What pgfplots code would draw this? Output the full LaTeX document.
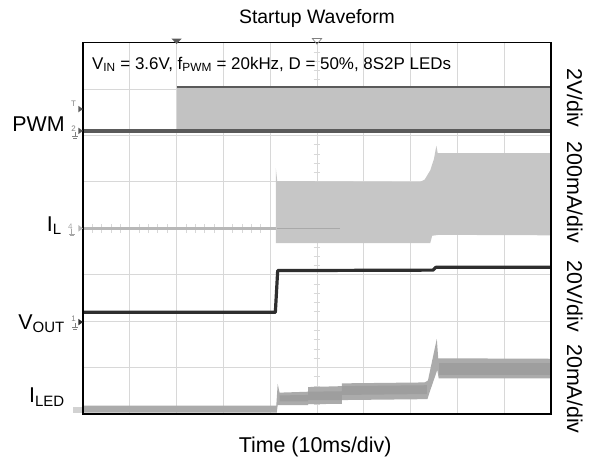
\documentclass[border=0pt]{standalone}
\usepackage{pgfplots}
\pgfplotsset{compat=1.18}
\usepackage{fontspec}
\setmainfont{Liberation Sans}
\definecolor{pwmband}{HTML}{C2C2C2}
\definecolor{pwmline}{HTML}{5A5A5A}
\definecolor{ilband}{HTML}{C6C6C6}
\definecolor{illine}{HTML}{B8B8B8}
\definecolor{voutline}{HTML}{2E2E2E}
\definecolor{iledband}{HTML}{ABABAB}
\definecolor{iledcore}{HTML}{9E9E9E}
\definecolor{gridc}{HTML}{D8D8D8}
\newcommand\lbl{\fontsize{21.5}{24}\selectfont}
\begin{document}
\begin{tikzpicture}
\begin{axis}[name=ax, width=468bp, height=371.3bp, scale only axis,
  xmin=0, xmax=10, ymin=0, ymax=8,
  xtick={1,2,3,4,5,6,7,8,9}, ytick={1,2,3,4,5,6,7},
  xticklabels={}, yticklabels={}, major tick length=0pt,
  grid=major, grid style={gridc, line width=1bp},
  axis line style={line width=1.3bp}, clip=false]
% centre graticule ticks
\pgfplotsinvokeforeach{0.2,0.4,0.6,0.8,1.2,1.4,1.6,1.8,2.2,2.4,2.6,2.8,3.2,3.4,3.6,3.8,4.2,4.4,4.6,4.8,5.2,5.4,5.6,5.8,6.2,6.4,6.6,6.8,7.2,7.4,7.6,7.8}{
  \draw[gridc, line width=0.8bp] (axis cs:4.93,#1) -- (axis cs:5.07,#1);}
\pgfplotsinvokeforeach{0.2,0.4,0.6,0.8,1.2,1.4,1.6,1.8,2.2,2.4,2.6,2.8,3.2,3.4,3.6,3.8,4.2,4.4,4.6,4.8,5.2,5.4,5.6,5.8,6.2,6.4,6.6,6.8,7.2,7.4,7.6,7.8,8.2,8.4,8.6,8.8,9.2,9.4,9.6,9.8}{
  \draw[gridc, line width=0.8bp] (axis cs:#1,3.91) -- (axis cs:#1,4.09);}
% PWM
\addplot[draw=none, fill=pwmband] coordinates {(2.0,6.1) (2.0,7.05) (10,7.05) (10,6.1)} -- cycle;
\addplot[pwmline, line width=2.5bp] coordinates {(2.0,7.05) (10,7.05)};
\addplot[pwmline, line width=4bp] coordinates {(0,6.1) (10,6.1)};
% I_L
\addplot[illine, line width=3bp] coordinates {(0,4.0) (4.13,4.0)};
\addplot[draw=none, fill=ilband] coordinates {(4.12,3.68) (4.12,5.3) (4.15,5.02) (7.2,5.0) (7.3,5.05) (7.42,5.25) (7.5,5.5) (7.55,5.78) (7.58,5.62) (10,5.62) (10,3.85) (7.6,3.86) (7.46,3.84) (7.42,3.68)} -- cycle;
\addplot[illine!92!black, line width=1.2bp] coordinates {(4.14,4.0) (5.5,4.0)};
% V_OUT
\addplot[voutline, line width=3.2bp, line join=round] coordinates {(0,2.19) (4.11,2.19) (4.16,3.09) (7.48,3.1) (7.54,3.16) (10,3.16)};
% I_LED
\addplot[draw=none, fill=iledband] coordinates {(0.02,0.03) (0.02,0.18) (4.13,0.18) (4.16,0.65) (4.2,0.46) (4.81,0.48) (4.81,0.58) (5.53,0.6) (5.53,0.66) (7.3,0.68) (7.37,0.72) (7.56,1.62) (7.59,1.2) (10,1.19) (10,0.77) (7.6,0.77) (7.57,0.95) (7.40,0.45) (7.36,0.32) (5.53,0.3) (5.53,0.22) (4.81,0.21) (4.81,0.19) (4.16,0.19) (4.14,0.03)} -- cycle;
\addplot[draw=none, fill=iledcore] coordinates {(4.2,0.27) (4.2,0.4) (4.81,0.41) (4.81,0.27)} -- cycle;
\addplot[draw=none, fill=iledcore] coordinates {(4.81,0.3) (4.81,0.48) (5.53,0.49) (5.53,0.3)} -- cycle;
\addplot[draw=none, fill=iledcore] coordinates {(5.53,0.41) (5.53,0.6) (7.35,0.62) (7.35,0.43)} -- cycle;
\addplot[draw=none, fill=iledcore] coordinates {(7.6,0.84) (7.6,1.1) (10,1.1) (10,0.84)} -- cycle;
% frame redraw
\draw[line width=1.3bp] (rel axis cs:0,0) rectangle (rel axis cs:1,1);
% channel markers
\fill[pwmline] (axis cs:-0.1,6.17) -- (axis cs:0,6.1) -- (axis cs:-0.1,6.03) -- cycle;
\node[gray, font=\fontsize{8}{8}\selectfont] at (axis cs:-0.2,6.14) {2};
\draw[gray, line width=0.6bp] (axis cs:-0.17,6.08) -- (axis cs:-0.17,5.98) (axis cs:-0.23,5.98) -- (axis cs:-0.11,5.98) (axis cs:-0.21,5.94) -- (axis cs:-0.13,5.94);
\fill[pwmline] (axis cs:-0.1,6.64) -- (axis cs:0,6.57) -- (axis cs:-0.1,6.5) -- cycle;
\node[gray, font=\fontsize{8}{8}\selectfont] at (axis cs:-0.2,6.68) {T};
\fill[illine] (axis cs:-0.1,4.07) -- (axis cs:0,4.0) -- (axis cs:-0.1,3.93) -- cycle;
\node[gray!70, font=\fontsize{8}{8}\selectfont] at (axis cs:-0.27,4.04) {4};
\draw[gray!70, line width=0.6bp] (axis cs:-0.24,3.98) -- (axis cs:-0.24,3.88) (axis cs:-0.3,3.88) -- (axis cs:-0.18,3.88) (axis cs:-0.28,3.84) -- (axis cs:-0.2,3.84);
\fill[voutline] (axis cs:-0.1,2.05) -- (axis cs:0,1.98) -- (axis cs:-0.1,1.91) -- cycle;
\node[gray, font=\fontsize{8}{8}\selectfont] at (axis cs:-0.2,2.06) {1};
\draw[gray, line width=0.6bp] (axis cs:-0.17,1.96) -- (axis cs:-0.17,1.86) (axis cs:-0.23,1.86) -- (axis cs:-0.11,1.86) (axis cs:-0.21,1.82) -- (axis cs:-0.13,1.82);
\fill[gray!35] (axis cs:-0.22,0.03) rectangle (axis cs:-0.02,0.16);
% top markers
\fill[pwmline] (axis cs:1.89,8.09) -- (axis cs:2.0,7.97) -- (axis cs:2.11,8.09) -- cycle;
\draw[gray, line width=0.7bp] (axis cs:4.9,8.09) -- (axis cs:5.0,7.97) -- (axis cs:5.1,8.09) -- cycle;
% texts
\node[anchor=base, inner sep=0pt, font=\fontsize{19.5}{22}\selectfont] at (axis cs:5.0,8.42) {Startup Waveform};
\node[font=\lbl] at (axis cs:4.96,-0.71) {Time (10ms/div)};
\node[anchor=base west, inner sep=0pt, font=\fontsize{17}{19}\selectfont] at (axis cs:0.19,7.43) {V\textsubscript{IN} = 3.6V, f\textsubscript{PWM} = 20kHz, D = 50\%, 8S2P LEDs};
\node[anchor=base east, inner sep=0pt, font=\lbl] at (axis cs:-0.385,6.08) {PWM};
\node[anchor=base east, inner sep=0pt, font=\lbl] at (axis cs:-0.45,3.94) {I\textsubscript{L}};
\node[anchor=base east, inner sep=0pt, font=\lbl] at (axis cs:-0.385,1.83) {V\textsubscript{OUT}};
\node[anchor=base east, inner sep=0pt, font=\lbl] at (axis cs:-0.385,0.24) {I\textsubscript{LED}};
\node[rotate=-90, font=\lbl] at (axis cs:10.51,6.81) {2V/div};
\node[rotate=-90, font=\lbl] at (axis cs:10.51,4.78) {200mA/div};
\node[rotate=-90, font=\lbl] at (axis cs:10.51,2.54) {20V/div};
\node[rotate=-90, font=\lbl] at (axis cs:10.51,0.54) {20mA/div};
\end{axis}
\path ([xshift=-83bp,yshift=-50bp]ax.south west) rectangle ([xshift=44bp,yshift=42.7bp]ax.north east);
\end{tikzpicture}
\end{document}
